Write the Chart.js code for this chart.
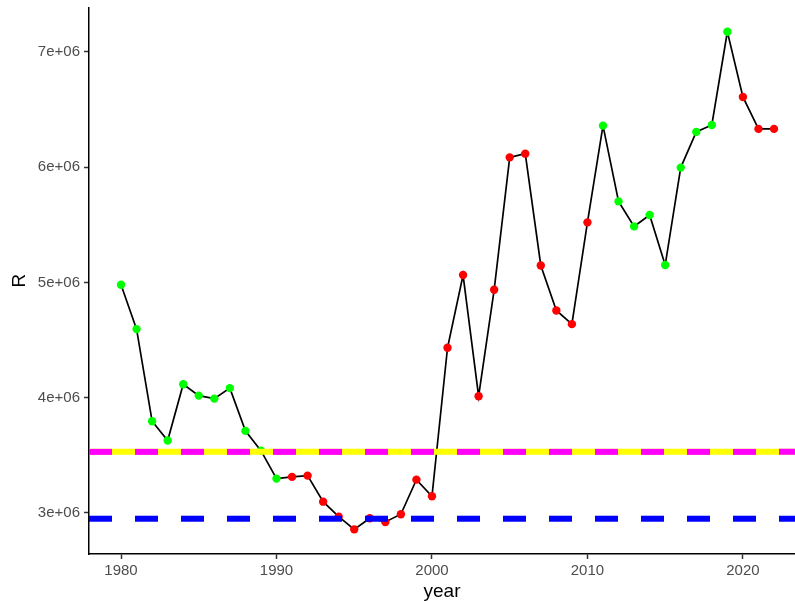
<!DOCTYPE html>
<html>
<head>
<meta charset="utf-8">
<script src="https://cdn.jsdelivr.net/npm/chart.js@4"></script>
<style>
  html, body { margin: 0; padding: 0; background: #fff; overflow: hidden; }
  #wrap { width: 795px; height: 601px; }
</style>
</head>
<body>
<div id="wrap"><canvas id="c" width="795" height="601"></canvas></div>
<script>
const years = [1980,1981,1982,1983,1984,1985,1986,1987,1988,1989,1990,1991,1992,1993,1994,1995,1996,1997,1998,1999,2000,2001,2002,2003,2004,2005,2006,2007,2008,2009,2010,2011,2012,2013,2014,2015,2016,2017,2018,2019,2020,2021,2022];
const R = [4.98e6,4.595e6,3.796e6,3.628e6,4.117e6,4.018e6,3.992e6,4.083e6,3.712e6,3.541e6,3.298e6,3.313e6,3.324e6,3.098e6,2.968e6,2.858e6,2.954e6,2.922e6,2.989e6,3.289e6,3.145e6,4.433e6,5.064e6,4.013e6,4.936e6,6.085e6,6.117e6,5.147e6,4.757e6,4.638e6,5.521e6,6.36e6,5.703e6,5.486e6,5.585e6,5.151e6,5.996e6,6.306e6,6.366e6,7.174e6,6.609e6,6.332e6,6.332e6];
const status = ['G','G','G','G','G','G','G','G','G','G','G','R','R','R','R','R','R','R','R','R','R','R','R','R','R','R','R','R','R','R','R','G','G','G','G','G','G','G','G','G','R','R','R'];
const refUpper = 3.53e6;   // yellow / magenta
const refLower = 2.95e6;   // blue
const xTicks = [1980,1990,2000,2010,2020];
const yTicks = [3e6,4e6,5e6,6e6,7e6];
const yTickLabels = ['3e+06','4e+06','5e+06','6e+06','7e+06'];
const xMin = 1977.94, xMax = 2023.35;
const yMin = 2.644e6, yMax = 7.385e6;

const colorMap = { G: '#00FF00', R: '#FF0000' };
const pts = years.map((y, i) => ({ x: y, y: R[i] }));
const hline = v => [{ x: xMin, y: v }, { x: xMax, y: v }];

new Chart(document.getElementById('c'), {
  type: 'line',
  data: {
    datasets: [
      { data: hline(refUpper), borderColor: '#FF00FF', borderWidth: 6, borderDash: [23, 23], pointRadius: 0, order: 1, clip: 0 },
      { data: hline(refLower), borderColor: '#0000FF', borderWidth: 6, borderDash: [23, 23], pointRadius: 0, order: 1, clip: 0 },
      { data: hline(refUpper), borderColor: '#FFFF00', borderWidth: 6, pointRadius: 0, order: 2, clip: 0 },
      { data: pts, borderColor: '#000000', borderWidth: 1.7, tension: 0,
        pointRadius: 4.2, pointBorderWidth: 0,
        pointBackgroundColor: status.map(s => colorMap[s]),
        pointBorderColor: status.map(s => colorMap[s]), order: 5 }
    ]
  },
  options: {
    responsive: false,
    animation: false,
    events: [],
    layout: { autoPadding: false, padding: { top: 7.5, right: 0, bottom: 0, left: 0 } },
    plugins: { legend: { display: false }, tooltip: { enabled: false } },
    scales: {
      x: {
        type: 'linear', position: 'bottom', min: xMin, max: xMax,
        afterBuildTicks: s => { s.ticks = xTicks.map(v => ({ value: v })); },
        afterFit: s => { s.height = 47; s.paddingLeft = 0; s.paddingRight = 0; },
        grid: { display: true, drawOnChartArea: false, drawTicks: true, tickLength: 5, tickWidth: 1.5, tickColor: '#333333' },
        border: { display: true, color: '#000000', width: 1.5 },
        ticks: { color: '#4D4D4D', padding: 3, maxRotation: 0, autoSkip: false,
          font: { family: '"Liberation Sans", Arial, sans-serif', size: 15 },
          callback: v => String(v) },
        title: { display: true, text: 'year', color: '#000000', padding: { top: 0, bottom: -2 },
          font: { family: '"Liberation Sans", Arial, sans-serif', size: 19 } }
      },
      y: {
        type: 'linear', position: 'left', min: yMin, max: yMax,
        afterBuildTicks: s => { s.ticks = yTicks.map(v => ({ value: v })); },
        afterFit: s => { s.width = 89; s.paddingTop = 0; s.paddingBottom = 0; },
        grid: { display: true, drawOnChartArea: false, drawTicks: true, tickLength: 5, tickWidth: 1.5, tickColor: '#333333' },
        border: { display: true, color: '#000000', width: 1.5 },
        ticks: { color: '#4D4D4D', padding: 4, autoSkip: false,
          font: { family: '"Liberation Sans", Arial, sans-serif', size: 15 },
          callback: v => { const i = yTicks.indexOf(v); return i >= 0 ? yTickLabels[i] : ''; } },
        title: { display: true, text: 'R', color: '#000000', padding: { top: 8, bottom: 0 },
          font: { family: '"Liberation Sans", Arial, sans-serif', size: 19 } }
      }
    }
  }
});
</script>
</body>
</html>
